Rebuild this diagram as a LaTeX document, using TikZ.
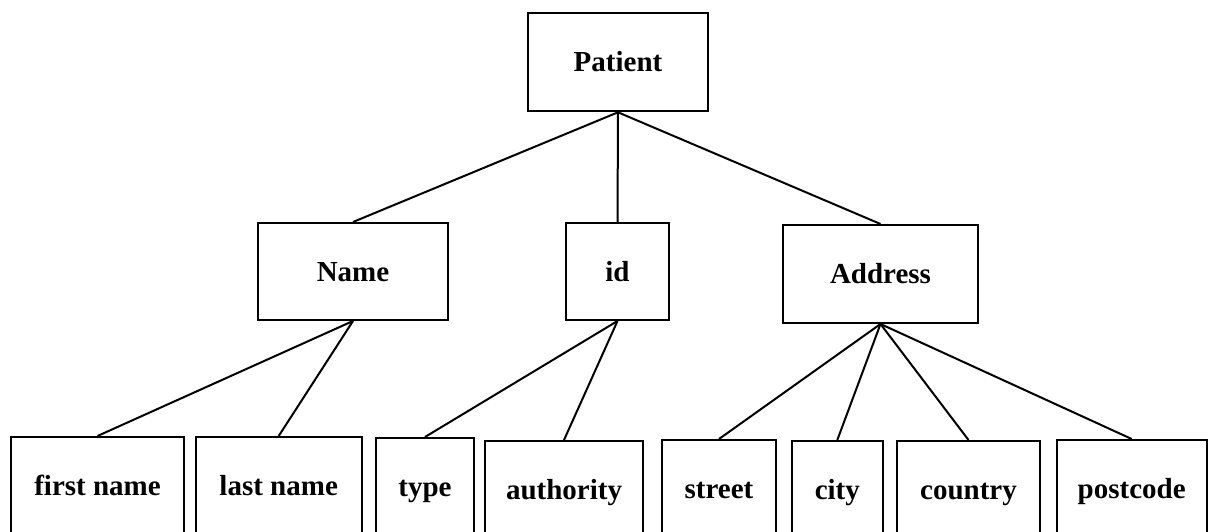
\documentclass[tikz,border=0pt]{standalone}
\usepackage{fontspec}
\setmainfont{Liberation Serif}
\begin{document}
\begin{tikzpicture}[x=1pt,y=-1pt,
  box/.style={draw, line width=2pt, inner sep=0pt, anchor=north,
    font=\fontsize{29}{34}\selectfont\bfseries,
    text height=19pt, text depth=0pt, minimum height=97pt},
  link/.style={line width=2pt}]
\useasboundingbox (0,0) rectangle (1208,532);

% root
\node[box, minimum width=180pt, minimum height=98pt] (patient) at (618,12.3) {Patient};

% second level
\node[box, minimum width=190pt] (name) at (353,222) {Name};
\node[box, minimum width=103pt] (id) at (617.5,222) {id};
\node[box, minimum width=195pt, minimum height=98pt] (address) at (880.5,224) {Address};

% leaves
\node[box, minimum width=173pt] (first) at (97.5,436) {first name};
\node[box, minimum width=166pt] (last) at (278.7,436) {last name};
\node[box, minimum width=98pt] (type) at (425,437) {type};
\node[box, minimum width=158pt] (auth) at (564,440) {authority};
\node[box, minimum width=114pt] (street) at (719,439) {street};
\node[box, minimum width=91pt] (city) at (837.3,440) {city};
\node[box, minimum width=143pt] (country) at (968.5,440) {country};
\node[box, minimum width=150pt] (post) at (1131.7,439) {postcode};

% connectors
\foreach \c in {name,id,address}
  \draw[link] (patient.south) -- (\c.north);
\foreach \c in {first,last}
  \draw[link] (name.south) -- (\c.north);
\foreach \c in {type,auth}
  \draw[link] (id.south) -- (\c.north);
\foreach \c in {street,city,country,post}
  \draw[link] (address.south) -- (\c.north);
\end{tikzpicture}
\end{document}
